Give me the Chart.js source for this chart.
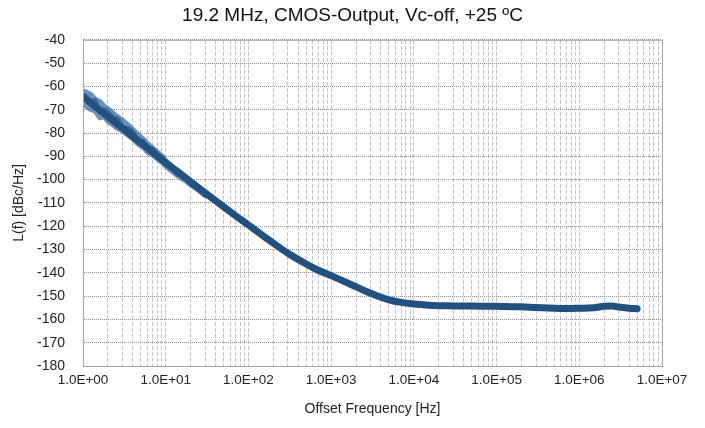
<!DOCTYPE html>
<html>
<head>
<meta charset="utf-8">
<script src="https://cdn.jsdelivr.net/npm/chart.js@4.4.1/dist/chart.umd.min.js"></script>
<style>
  body { margin: 0; background: #fff; }
</style>
</head>
<body>
<canvas id="grafica-ruido" width="705" height="428"></canvas>
<script>
// Datos (frecuencia en Hz, ruido de fase en dBc/Hz)
const frecuencias = [1, 1.2, 1.4, 1.7, 2, 2.4, 2.8, 3.3, 4, 4.7, 5.6, 6.8, 8, 10, 12, 15, 20, 30, 50, 70,
  100, 150, 200, 300, 500, 700, 1000, 1500, 2000, 3000, 4000, 5000, 7000, 10000, 15000, 20000, 30000,
  50000, 1e5, 2e5, 3e5, 5e5, 7e5, 1e6, 1.5e6, 2e6, 2.5e6, 3e6, 4e6, 5e6];
const ruidoPrincipal = [-64.5, -66.7, -68.6, -71, -73, -75.2, -77.1, -79.1, -81.5, -83.5, -85.6, -88, -90, -92.8, -94.9, -97.4, -100.9, -105.7, -111.6, -115.5,
  -119.5, -124.1, -127.3, -131.6, -136.2, -138.9, -141.2, -144, -146, -148.8, -150.5, -151.6, -152.7, -153.4, -153.9, -154.1, -154.2,
  -154.3, -154.4, -154.6, -154.9, -155.2, -155.3, -155.2, -155, -154.4, -154.3, -154.7, -155.2, -155.4];

// Trazas ruidosas de la zona baja (1 Hz a 30 Hz)
const frecRuidosas = [1, 1.1, 1.25, 1.4, 1.6, 1.8, 2, 2.3, 2.6, 3, 3.5, 4, 4.6, 5.3, 6, 7, 8, 9, 10, 12, 14, 17, 20, 25, 30];
const trazaA = [-62, -62.5, -63.5, -65.5, -66.5, -68.5, -69.5, -71.5, -73, -74.5, -76.5, -78.5, -80.5, -82.5, -84.5, -86.5, -88.3, -89.8, -91.8, -94.5, -96.5, -98.8, -100.9, -103.7, -106.1];
const trazaB = [-68, -68.5, -70, -70.5, -73.5, -73, -75, -76.5, -78, -79, -81, -82.5, -84.7, -86, -88.2, -89.5, -91.3, -92.6, -94.3, -96.6, -98.3, -100.3, -102.2, -104.7, -106.9];
const trazaC = [-63.5, -64.5, -66.5, -66, -71, -70, -71, -73.5, -74, -77.5, -78, -79.5, -83.5, -83.5, -86.5, -87, -90, -90.5, -93.5, -95, -97.8, -99, -101.8, -104, -106.6];

const etiquetasX = ['1.0E+00', '1.0E+01', '1.0E+02', '1.0E+03', '1.0E+04', '1.0E+05', '1.0E+06', '1.0E+07'];
const yMin = -180, yMax = -40, yPaso = 10;

function puntos(xs, ys) {
    return xs.map((x, i) => ({ x: x, y: ys[i] }));
}

// Marco alrededor del area del grafico
const marcoPlugin = {
    id: 'marco',
    afterDraw(chart) {
        const a = chart.chartArea;
        const ctx = chart.ctx;
        ctx.save();
        ctx.strokeStyle = '#a6a6a6';
        ctx.lineWidth = 1;
        ctx.strokeRect(a.left + 0.5, a.top + 0.5, a.right - a.left, a.bottom - a.top);
        ctx.restore();
    }
};

const fuente = "'Liberation Sans', Arial, sans-serif";
const trazaClara = 'rgba(44, 100, 160, 0.7)';

const ctx = document.getElementById('grafica-ruido').getContext('2d');
new Chart(ctx, {
    type: 'line',
    data: {
        datasets: [
            { data: puntos(frecuencias, ruidoPrincipal), borderColor: '#22507f', borderWidth: 7, cubicInterpolationMode: 'monotone' },
            { data: puntos(frecRuidosas, trazaA), borderColor: trazaClara, borderWidth: 5 },
            { data: puntos(frecRuidosas, trazaB), borderColor: trazaClara, borderWidth: 5 },
            { data: puntos(frecRuidosas, trazaC), borderColor: 'rgba(34, 80, 127, 0.8)', borderWidth: 5 }
        ]
    },
    options: {
        responsive: false,
        animation: false,
        layout: { padding: 0 },
        elements: { point: { radius: 0 }, line: { borderJoinStyle: 'round', borderCapStyle: 'round' } },
        plugins: {
            legend: { display: false },
            tooltip: { enabled: false },
            title: {
                display: true,
                text: '19.2 MHz, CMOS-Output, Vc-off, +25 ºC',
                color: '#111',
                font: { family: fuente, size: 19, weight: 'normal' },
                padding: { top: 4, bottom: 13 }
            }
        },
        scales: {
            x: {
                type: 'logarithmic',
                min: 1,
                max: 1e7,
                afterBuildTicks(scale) {
                    const ticks = [];
                    for (let e = 0; e < 7; e++) {
                        for (let m = 1; m < 10; m++) ticks.push({ value: m * Math.pow(10, e) });
                    }
                    ticks.push({ value: 1e7 });
                    scale.ticks = ticks;
                },
                afterFit(scale) { scale.height = 62; },
                ticks: {
                    autoSkip: false,
                    maxRotation: 0,
                    padding: 6,
                    color: '#222',
                    font: { family: fuente, size: 13.5 },
                    callback(v) {
                        const e = Math.log10(v);
                        if (Math.abs(e - Math.round(e)) > 1e-9) return '';
                        return etiquetasX[Math.round(e)];
                    }
                },
                grid: { color: '#c4c4c4', lineWidth: 1, drawTicks: false },
                border: { display: true, color: '#a6a6a6', dash: [4, 2] },
                title: {
                    display: true,
                    text: 'Offset Frequency [Hz]',
                    color: '#222',
                    font: { family: fuente, size: 14 },
                    padding: { top: 4, bottom: 10 }
                }
            },
            y: {
                min: yMin,
                max: yMax,
                afterFit(scale) { scale.width = 83; },
                ticks: {
                    stepSize: yPaso,
                    padding: 18,
                    color: '#222',
                    font: { family: fuente, size: 14 }
                },
                grid: { color: '#8c8c8c', lineWidth: 1, drawTicks: false },
                border: { display: true, color: '#a6a6a6', dash: [1, 1] },
                title: {
                    display: true,
                    text: 'L(f) [dBc/Hz]',
                    color: '#222',
                    font: { family: fuente, size: 14 },
                    padding: { top: 11, bottom: 0 }
                }
            },
            // eje vacio a la derecha solo para reservar el margen
            margenDerecho: {
                type: 'linear',
                position: 'right',
                display: true,
                afterFit(scale) { scale.width = 43; },
                ticks: { display: false },
                grid: { display: false },
                border: { display: false }
            }
        }
    },
    plugins: [marcoPlugin]
});
</script>
</body>
</html>
